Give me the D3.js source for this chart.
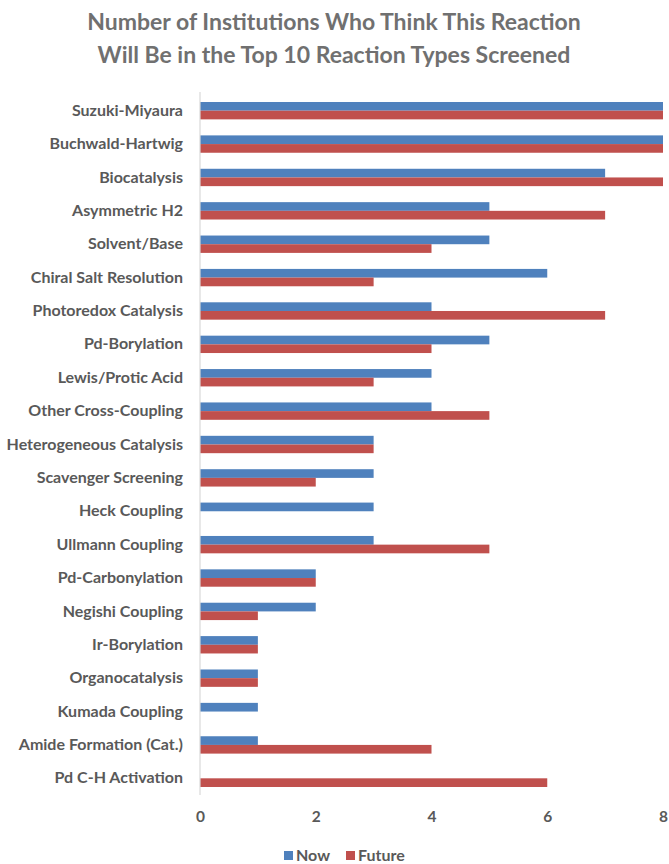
<!DOCTYPE html>
<html>
<head>
<meta charset="utf-8">
<script src="https://cdn.jsdelivr.net/npm/d3@7"></script>
<style>
  html, body { margin: 0; padding: 0; background: #fff; }
  svg { display: block; }
</style>
</head>
<body>
<svg id="chart" width="669" height="864"></svg>
<script>
// Reaction types, top to bottom
const categories = [
  "Suzuki-Miyaura", "Buchwald-Hartwig", "Biocatalysis", "Asymmetric H2",
  "Solvent/Base", "Chiral Salt Resolution", "Photoredox Catalysis", "Pd-Borylation",
  "Lewis/Protic Acid", "Other Cross-Coupling", "Heterogeneous Catalysis",
  "Scavenger Screening", "Heck Coupling", "Ullmann Coupling", "Pd-Carbonylation",
  "Negishi Coupling", "Ir-Borylation", "Organocatalysis", "Kumada Coupling",
  "Amide Formation (Cat.)", "Pd C-H Activation"
];
const nowValues    = [8, 8, 7, 5, 5, 6, 4, 5, 4, 4, 3, 3, 3, 3, 2, 2, 1, 1, 1, 1, 0];
const futureValues = [8, 8, 8, 7, 4, 3, 7, 4, 3, 5, 3, 2, 0, 5, 2, 1, 1, 1, 0, 4, 6];
const seriesNames  = ["Now", "Future"];
const xTicks       = [0, 2, 4, 6, 8];
const titleLines   = [
  "Number of Institutions Who Think This Reaction",
  "Will Be in the Top 10 Reaction Types Screened"
];

const colors = { Now: "#4F81BD", Future: "#C0504D" };
const font = "Lato, 'Open Sans', sans-serif";

const rows = categories.map((c, i) => ({ cat: c, Now: nowValues[i], Future: futureValues[i] }));

const svg = d3.select("#chart");
const margin = { left: 200, right: 6, top: 94, bottom: 69 };
const W = 669, H = 864;

const x = d3.scaleLinear().domain([0, 8]).range([margin.left, 663]);
const y = d3.scaleBand().domain(categories).range([margin.top, H - margin.bottom]).paddingInner(0.48).paddingOuter(0.24);
const ySub = d3.scaleBand().domain(seriesNames).range([0, y.bandwidth()]);

// Title
svg.append("g").selectAll("text").data(titleLines).join("text")
  .attr("x", 334).attr("y", (d, i) => 30 + i * 33)
  .attr("text-anchor", "middle")
  .attr("font-family", font).attr("font-weight", "bold").attr("font-size", 23)
  .attr("fill", "#707070")
  .text(d => d);

// Bars
const groups = svg.append("g").selectAll("g").data(rows).join("g")
  .attr("transform", d => `translate(0,${y(d.cat)})`);
groups.selectAll("rect").data(d => seriesNames.map(s => ({ s, v: d[s] })).filter(e => e.v > 0)).join("rect")
  .attr("x", x(0))
  .attr("y", e => ySub(e.s))
  .attr("width", e => x(e.v) - x(0))
  .attr("height", ySub.bandwidth())
  .attr("fill", e => colors[e.s]);

// Category axis (labels + vertical baseline)
const yAxis = d3.axisLeft(y).tickSize(0).tickPadding(17);
const gy = svg.append("g").attr("transform", `translate(${x(0)},0)`).call(yAxis);
gy.select(".domain").attr("stroke", "#d9d9d9").attr("stroke-width", 1.2)
  .attr("d", `M0,${margin.top - 2}V${H - margin.bottom}`);
gy.selectAll("text")
  .attr("font-family", font).attr("font-weight", "bold").attr("font-size", 16)
  .attr("fill", "#595959");

// Value axis labels
const xAxis = d3.axisBottom(x).tickValues(xTicks).tickSize(0).tickPadding(0).tickFormat(d3.format("d"));
const gx = svg.append("g").attr("transform", `translate(0,811)`).call(xAxis);
gx.select(".domain").remove();
gx.selectAll("text")
  .attr("font-family", font).attr("font-weight", "bold").attr("font-size", 15.5)
  .attr("fill", "#595959");

// Legend
const legendX = [284, 346];
const legend = svg.append("g").selectAll("g").data(seriesNames).join("g")
  .attr("transform", (d, i) => `translate(${legendX[i]},851)`);
legend.append("rect").attr("width", 9).attr("height", 9).attr("fill", d => colors[d]);
legend.append("text").attr("x", 12).attr("y", 10)
  .attr("font-family", font).attr("font-weight", "bold").attr("font-size", 16)
  .attr("fill", "#595959").text(d => d);
</script>
</body>
</html>
